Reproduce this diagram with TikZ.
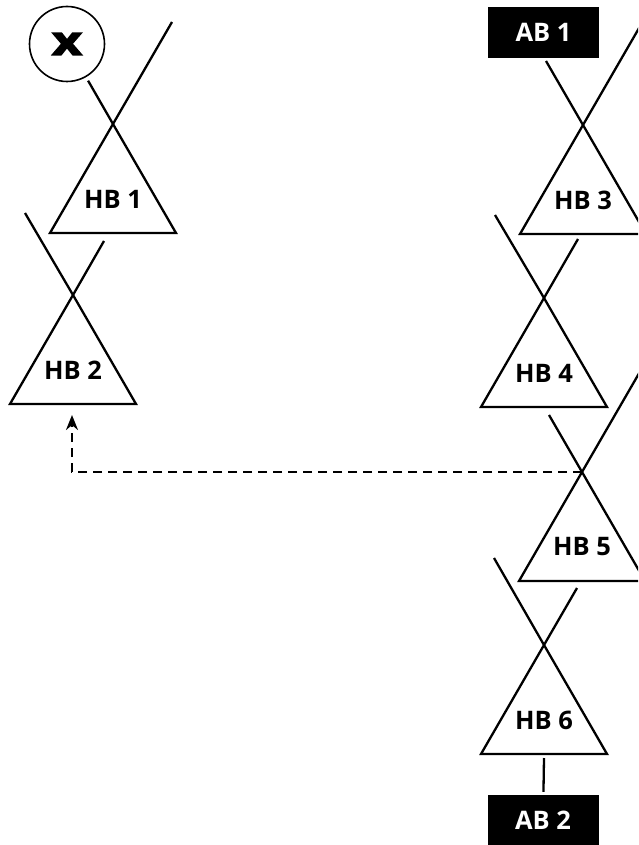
\documentclass[tikz,border=0pt]{standalone}
\usepackage{fontspec}
\setmainfont{Open Sans}
\newfontfamily\heavyfont{Open Sans}[BoldFeatures={FakeBold=3}]
\usetikzlibrary{arrows.meta}
\begin{document}
\begin{tikzpicture}[x=1pt, y=-1pt, >={Stealth[length=15pt,width=12pt]}, line width=2.3pt,
  lbl/.style={font=\fontsize{25.5}{28}\selectfont\bfseries},
  abbox/.style={fill=black, text=white, minimum width=111pt, minimum height=51pt, inner sep=0pt, font=\fontsize{25.5}{28}\selectfont\bfseries}]
 \clip (0,0) rectangle (638,845);
 % triangles
 \foreach \n/\x/\y in {1/113/124, 2/73/295, 3/583/125, 4/544/298, 5/582/472, 6/544/645}
 {
     \coordinate (hb\n) at (\x,\y);
     \draw (hb\n) -- ++(-63,109) -- ++(126,0) -- cycle;
     \node[lbl] (l\n) at (\x,\y+75) {HB \n};
 }
 \node[draw, circle, line width=1.6pt, minimum size=75pt, inner sep=0pt] (xc) at (67,44) {\heavyfont\fontsize{40}{44}\selectfont\bfseries\scalebox{1.3}[1]{x}};
 \node[abbox] (ab1) at (543.5,32.5) {AB 1};
 \node[abbox] (ab2) at (543,820.5) {AB 2};
 % ends of the crossing lines
 \coordinate (e1) at (172,22);
 \coordinate (e2a) at (25,213);
 \coordinate (e2b) at (104,241);
 \coordinate (e3a) at (546,61);
 \coordinate (e3b) at (646,16);
 \coordinate (e4a) at (495,215);
 \coordinate (e4b) at (578,239);
 \coordinate (e5a) at (549,415);
 \coordinate (e5b) at (645,363);
 \coordinate (e6a) at (494,558);
 \coordinate (e6b) at (577,588);
 \coordinate (f6) at (544,758);
 \coordinate (arr) at (72,415);
 \draw[shorten >=4pt] (hb1) -- (xc);
 \draw (hb1) -- (e1);
 \foreach \n in {2,...,6}
 {
     \draw (hb\n) -- (e\n a);
     \draw (hb\n) -- (e\n b);
 }
 \draw[shorten >=2pt] (f6) -- (ab2);
 \draw[dash pattern=on 9pt off 6pt, ->] (hb5) -| (arr);
\end{tikzpicture}
\end{document}
